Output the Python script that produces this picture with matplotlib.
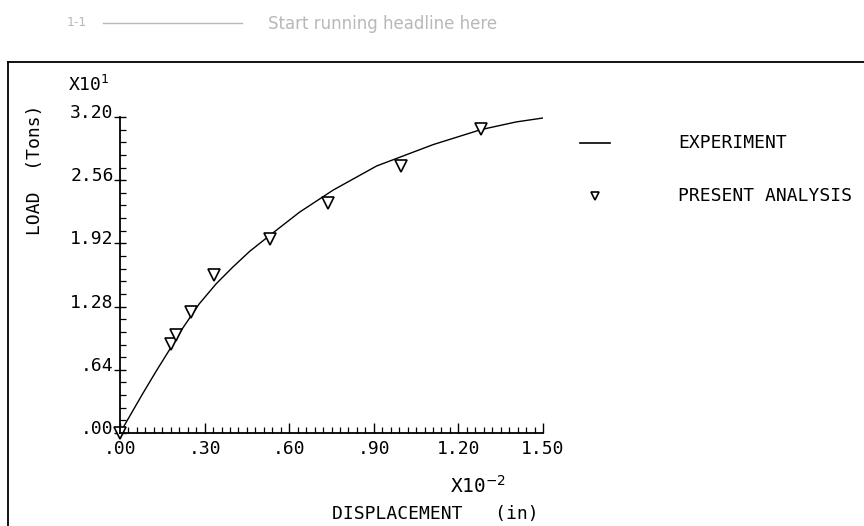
import matplotlib
matplotlib.use("Agg")
import matplotlib.pyplot as plt
from matplotlib.ticker import MultipleLocator, FixedLocator
from matplotlib.lines import Line2D
import matplotlib.transforms as mtransforms

# Experiment curve (x in 1e-2 in, y in 1e1 tons)
exp_x = [0.0, 0.080, 0.128, 0.181, 0.222, 0.281, 0.341, 0.400, 0.460, 0.531,
         0.637, 0.756, 0.910, 1.111, 1.281, 1.405, 1.50]
exp_y = [0.0, 0.396, 0.625, 0.868, 1.060, 1.308, 1.511, 1.680, 1.840, 2.001,
         2.237, 2.460, 2.704, 2.921, 3.073, 3.15, 3.19]

# Present analysis points
ana_x = [0.0, 0.181, 0.199, 0.252, 0.333, 0.531, 0.737, 0.998, 1.281]
ana_y = [0.0, 0.90, 0.99, 1.23, 1.595, 1.967, 2.33, 2.70, 3.08]

x_ticks = [0.0, 0.30, 0.60, 0.90, 1.20, 1.50]
x_labels = [".00", ".30", ".60", ".90", "1.20", "1.50"]
y_ticks = [0.0, 0.64, 1.28, 1.92, 2.56, 3.20]
y_labels = [".00", ".64", "1.28", "1.92", "2.56", "3.20"]

FONT = "DejaVu Sans Mono"
plt.rcParams['font.family'] = [FONT, 'DejaVu Sans']

W, H = 864, 526
fig = plt.figure(figsize=(W / 100, H / 100), dpi=100)

def fx(px):
    return px / W

def fy(py):
    return 1 - py / H

ax_l, ax_r, ax_t, ax_b = 120, 543, 117, 433
ax = fig.add_axes([fx(ax_l), fy(ax_b), (ax_r - ax_l) / W, (ax_b - ax_t) / H])
ax.plot(exp_x, exp_y, color='black', lw=1.0)
ax.plot(ana_x, ana_y, linestyle='none', marker='v', markersize=8,
        markerfacecolor='white', markeredgecolor='black', markeredgewidth=1.2, clip_on=False)

ax.set_xlim(0, 1.5)
ax.set_ylim(0, 3.2)
for s in ['top', 'right']:
    ax.spines[s].set_visible(False)
ax.spines['left'].set_linewidth(1.3)
ax.spines['bottom'].set_linewidth(1.3)

ax.xaxis.set_major_locator(FixedLocator(x_ticks))
ax.set_xticklabels(x_labels, fontsize=13)
ax.xaxis.set_minor_locator(MultipleLocator(0.03))
ax.yaxis.set_major_locator(FixedLocator(y_ticks))
ax.set_yticklabels(y_labels, fontsize=13)
ax.yaxis.set_minor_locator(MultipleLocator(0.128))
ax.tick_params(axis='x', which='major', direction='in', length=7, width=1.0, pad=5)
ax.tick_params(axis='y', which='major', direction='inout', length=9, width=1.0, pad=0)
ax.tick_params(axis='both', which='minor', direction='in', length=4, width=0.9)

# shift y tick labels upward so the tick sits at their baseline
offset = mtransforms.ScaledTranslation(0, 6 / 100, fig.dpi_scale_trans)
for lab in ax.get_yticklabels():
    lab.set_transform(lab.get_transform() + offset)

# exponent texts
fig.text(fx(68), fy(85), r"X10$^{1}$", fontsize=13, ha='left', va='center')
fig.text(fx(478), fy(486), r"X10$^{-2}$", fontsize=14, ha='center', va='center')
fig.text(fx(435), fy(514), "DISPLACEMENT   (in)", fontsize=13, ha='center', va='center')
fig.text(fx(35), fy(170), "LOAD  (Tons)", fontsize=13, rotation=90, ha='center', va='center')

# legend
fig.add_artist(Line2D([fx(580), fx(610)], [fy(143), fy(143)], color='black', lw=1.2))
fig.text(fx(678), fy(143), "EXPERIMENT", fontsize=13, ha='left', va='center')
fig.add_artist(Line2D([fx(595)], [fy(196)], linestyle='none', marker='v', markersize=6,
                      markerfacecolor='white', markeredgecolor='black', markeredgewidth=1.2))
fig.text(fx(678), fy(196), "PRESENT ANALYSIS", fontsize=13, ha='left', va='center')

# frame
fig.add_artist(Line2D([fx(8), fx(864)], [fy(62), fy(62)], color='black', lw=1.3))
fig.add_artist(Line2D([fx(8), fx(8)], [fy(62), fy(526)], color='black', lw=1.3))

# faint header
fig.text(fx(268), fy(24), "Start running headline here", fontsize=12, color='#b8b8b8',
         family='DejaVu Sans', ha='left', va='center')
fig.text(fx(67), fy(22), "1-1", fontsize=9, color='#b8b8b8', family='DejaVu Sans',
         ha='left', va='center')
fig.add_artist(Line2D([fx(103), fx(242)], [fy(23), fy(23)], color='#b8b8b8', lw=1.0))

fig.savefig("out.png", dpi=100)
